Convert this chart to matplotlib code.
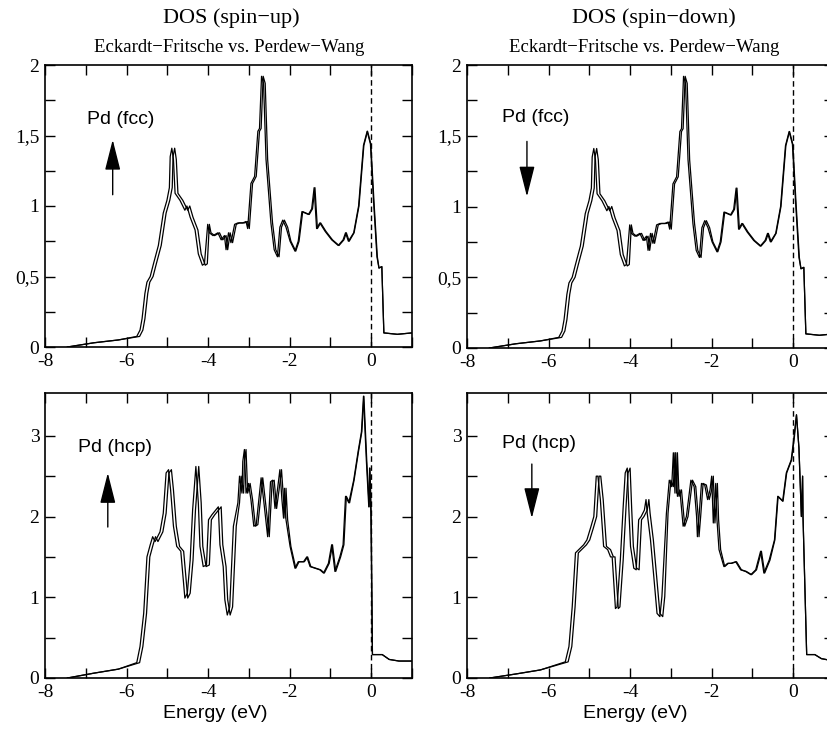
import matplotlib
matplotlib.use("Agg")
import matplotlib.pyplot as plt

# ---------------- data ----------------
# Pd fcc (identical for spin-up and spin-down); *_pw = Perdew-Wang curve energies
fcc_e = [-7.45, -6.8, -6.2, -5.68, -5.6, -5.55, -5.48, -5.43, -5.35, -5.27, -5.15, -5.03, -4.94, -4.88,
         -4.86, -4.82, -4.78, -4.74, -4.62, -4.50, -4.45, -4.37, -4.25, -4.17, -4.07, -4.02, -3.97, -3.93,
         -3.84, -3.72, -3.64, -3.56, -3.52, -3.46, -3.40, -3.31, -3.23, -3.11, -3.03, -2.99, -2.91, -2.82,
         -2.74, -2.70, -2.65, -2.60, -2.54, -2.42, -2.34, -2.26, -2.20, -2.13, -2.05, -1.97, -1.85, -1.77,
         -1.68, -1.60, -1.52, -1.44, -1.38, -1.32, -1.24, -1.11, -0.95, -0.79, -0.67, -0.61, -0.54, -0.42,
         -0.30, -0.18, -0.09, -0.01, 0.07, 0.15, 0.19, 0.26, 0.31, 0.64, 1.0]
fcc_e_pw = [-7.45, -6.8, -6.2, -5.75, -5.67, -5.62, -5.55, -5.50, -5.42, -5.34, -5.22, -5.10, -5.01, -4.95,
            -4.93, -4.89, -4.85, -4.81, -4.69, -4.57, -4.52, -4.44, -4.32, -4.24, -4.14, -4.09, -4.01, -3.97,
            -3.88, -3.76, -3.68, -3.60, -3.56, -3.50, -3.44, -3.35, -3.27, -3.15, -3.07, -3.03, -2.95, -2.86,
            -2.78, -2.74, -2.69, -2.64, -2.58, -2.46, -2.38, -2.30, -2.24, -2.17, -2.09, -1.99, -1.87, -1.79,
            -1.70, -1.62, -1.54, -1.46, -1.40, -1.34, -1.26, -1.13, -0.97, -0.81, -0.69, -0.63, -0.56, -0.43,
            -0.31, -0.19, -0.10, -0.02, 0.06, 0.14, 0.19, 0.26, 0.31, 0.64, 1.0]
fcc_dos = [0.0, 0.03, 0.05, 0.075, 0.12, 0.2, 0.38, 0.46, 0.5, 0.59, 0.72, 0.95, 1.04, 1.13, 1.35, 1.41,
           1.33, 1.09, 1.04, 0.97, 1.0, 0.92, 0.83, 0.66, 0.58, 0.59, 0.87, 0.81, 0.79, 0.81, 0.76, 0.79,
           0.69, 0.81, 0.74, 0.87, 0.88, 0.88, 0.89, 0.84, 1.16, 1.21, 1.53, 1.55, 1.92, 1.87, 1.33, 0.88,
           0.69, 0.64, 0.85, 0.90, 0.85, 0.75, 0.68, 0.75, 0.96, 0.95, 0.94, 0.98, 1.13, 0.84, 0.88, 0.82,
           0.76, 0.72, 0.76, 0.81, 0.75, 0.81, 1.0, 1.43, 1.53, 1.44, 1.02, 0.64, 0.56, 0.57, 0.10, 0.09, 0.10]

# Pd hcp spin-up
hcpu_e = [-7.45, -6.8, -6.2, -5.68, -5.60, -5.51, -5.43, -5.35, -5.29, -5.23, -5.11, -5.03, -4.96, -4.90,
          -4.85, -4.78, -4.70, -4.60, -4.50, -4.44, -4.37, -4.31, -4.23, -4.17, -4.13, -4.05, -3.97, -3.92,
          -3.84, -3.68, -3.64, -3.56, -3.52, -3.46, -3.40, -3.31, -3.23, -3.19, -3.13, -3.11, -3.07, -3.03,
          -2.97, -2.91, -2.84, -2.78, -2.66, -2.58, -2.50, -2.43, -2.38, -2.32, -2.25, -2.20, -2.15, -2.11,
          -2.09, -2.05, -1.97, -1.85, -1.77, -1.64, -1.56, -1.48, -1.36, -1.24, -1.15, -1.03, -0.95, -0.87,
          -0.75, -0.67, -0.61, -0.53, -0.42, -0.31, -0.23, -0.18, -0.11, -0.05, -0.03, 0.0, 0.03, 0.27,
          0.44, 0.68, 1.0]
hcpu_e_pw = [-7.45, -6.8, -6.2, -5.75, -5.67, -5.58, -5.50, -5.42, -5.36, -5.30, -5.18, -5.10, -5.03, -4.97,
             -4.92, -4.85, -4.77, -4.67, -4.57, -4.51, -4.44, -4.38, -4.30, -4.24, -4.20, -4.12, -4.04, -3.99,
             -3.91, -3.75, -3.71, -3.63, -3.59, -3.53, -3.47, -3.38, -3.27, -3.23, -3.17, -3.15, -3.11, -3.07,
             -3.01, -2.95, -2.88, -2.82, -2.70, -2.62, -2.54, -2.47, -2.42, -2.36, -2.29, -2.24, -2.19, -2.15,
             -2.13, -2.09, -1.99, -1.87, -1.79, -1.66, -1.58, -1.50, -1.38, -1.26, -1.17, -1.05, -0.97, -0.89,
             -0.77, -0.69, -0.63, -0.55, -0.43, -0.32, -0.24, -0.19, -0.12, -0.06, -0.04, -0.01, 0.03, 0.27,
             0.44, 0.68, 1.0]
hcpu_dos = [0.0, 0.06, 0.11, 0.19, 0.39, 0.80, 1.50, 1.65, 1.75, 1.69, 1.81, 2.04, 2.54, 2.58, 2.33, 1.88,
            1.63, 1.57, 0.99, 1.05, 1.46, 2.08, 2.62, 2.17, 1.63, 1.38, 1.40, 1.96, 2.02, 2.12, 1.65, 1.38,
            0.97, 0.78, 0.88, 1.88, 2.17, 2.50, 2.29, 2.68, 2.83, 2.29, 2.41, 2.21, 1.88, 1.90, 2.48, 2.12,
            1.75, 2.43, 2.45, 2.10, 2.37, 2.58, 2.21, 1.98, 2.35, 1.96, 1.63, 1.36, 1.44, 1.44, 1.50, 1.38,
            1.36, 1.34, 1.30, 1.42, 1.65, 1.32, 1.50, 1.65, 2.25, 2.17, 2.45, 2.81, 3.05, 3.49, 2.70, 2.12,
            2.60, 2.04, 0.29, 0.29, 0.23, 0.21, 0.21]

# Pd hcp spin-down
hcpd_e = [-7.44, -6.8, -6.2, -5.52, -5.43, -5.35, -5.27, -5.19, -5.07, -4.99, -4.90, -4.82, -4.76, -4.72,
          -4.66, -4.58, -4.48, -4.41, -4.37, -4.29, -4.25, -4.17, -4.10, -4.05, -4.00, -3.96, -3.92, -3.84,
          -3.78, -3.72, -3.66, -3.58, -3.54, -3.51, -3.43, -3.35, -3.27, -3.20, -3.15, -3.07, -3.00, -2.94,
          -2.90, -2.86, -2.84, -2.80, -2.74, -2.66, -2.58, -2.47, -2.39, -2.33, -2.31, -2.27, -2.21, -2.13,
          -2.06, -2.00, -1.96, -1.92, -1.86, -1.83, -1.78, -1.68, -1.59, -1.51, -1.39, -1.27, -1.15, -1.02,
          -0.90, -0.78, -0.70, -0.57, -0.45, -0.37, -0.25, -0.16, -0.04, 0.03, 0.08, 0.14, 0.18, 0.20, 0.23,
          0.24, 0.33, 0.53, 0.69, 1.0]
hcpd_e_pw = [-7.44, -6.8, -6.2, -5.59, -5.50, -5.42, -5.34, -5.26, -5.14, -5.06, -4.97, -4.89, -4.83, -4.79,
             -4.73, -4.65, -4.55, -4.48, -4.44, -4.36, -4.32, -4.24, -4.17, -4.12, -4.07, -4.03, -3.99, -3.91,
             -3.85, -3.79, -3.73, -3.65, -3.61, -3.58, -3.50, -3.42, -3.34, -3.27, -3.22, -3.11, -3.04, -2.98,
             -2.94, -2.90, -2.88, -2.84, -2.78, -2.70, -2.62, -2.51, -2.43, -2.37, -2.35, -2.31, -2.25, -2.17,
             -2.10, -2.04, -2.00, -1.96, -1.90, -1.87, -1.82, -1.70, -1.61, -1.53, -1.41, -1.29, -1.17, -1.04,
             -0.92, -0.80, -0.72, -0.59, -0.46, -0.38, -0.26, -0.17, -0.05, 0.02, 0.08, 0.14, 0.18, 0.20, 0.23,
             0.24, 0.33, 0.53, 0.69, 1.0]
hcpd_dos = [0.0, 0.05, 0.10, 0.20, 0.39, 0.88, 1.55, 1.59, 1.65, 1.71, 1.86, 2.0, 2.50, 2.50, 2.21, 1.63,
            1.59, 1.50, 1.50, 0.86, 0.88, 1.46, 2.12, 2.54, 2.60, 2.08, 1.63, 1.36, 1.34, 1.96, 2.00, 2.08,
            2.21, 2.04, 1.71, 1.26, 0.80, 0.76, 1.01, 2.04, 2.45, 2.37, 2.79, 2.29, 2.79, 2.25, 2.33, 1.88,
            2.0, 2.45, 2.37, 2.0, 1.75, 2.0, 2.41, 2.39, 2.21, 2.33, 2.50, 1.92, 2.41, 1.96, 1.59, 1.38, 1.42,
            1.42, 1.44, 1.34, 1.32, 1.28, 1.34, 1.57, 1.30, 1.46, 1.71, 2.25, 2.19, 2.54, 2.70, 2.99, 3.26,
            2.85, 2.29, 2.0, 2.50, 2.0, 0.29, 0.29, 0.24, 0.21]

x_ticks = [-8, -7, -6, -5, -4, -3, -2, -1, 0, 1]
x_labels = ['-8', '', '-6', '', '-4', '', '-2', '', '0', '']
fcc_yticks = [0, 0.25, 0.5, 0.75, 1.0, 1.25, 1.5, 1.75, 2.0]
fcc_ylabels = ['0', '', '0,5', '', '1', '', '1,5', '', '2']
hcp_yticks = [0, 0.5, 1.0, 1.5, 2.0, 2.5, 3.0]
hcp_ylabels = ['0', '', '1', '', '2', '', '3']

col_titles = ['DOS (spin\u2212up)', 'DOS (spin\u2212down)']
subtitle = 'Eckardt\u2212Fritsche vs. Perdew\u2212Wang'
xlabel = 'Energy (eV)'

# ---------------- figure ----------------
W, H = 827, 735
fig = plt.figure(figsize=(W / 100, H / 100), dpi=100)

def px_axes(x0, x1, ytop, ybot):
    return fig.add_axes([x0 / W, 1 - ybot / H, (x1 - x0) / W, (ybot - ytop) / H])

serif = 'Liberation Serif'
sans = 'Liberation Sans'

panels = [
    (45, 412, 65, 347, fcc_e, fcc_e_pw, fcc_dos, 2.0, fcc_yticks, fcc_ylabels, 'Pd (fcc)', (-6.97, 1.61), (-6.34, 1.08), (-6.34, 1.47)),
    (467, 834, 65, 348, fcc_e, fcc_e_pw, fcc_dos, 2.0, fcc_yticks, fcc_ylabels, 'Pd (fcc)', (-7.14, 1.63), (-6.53, 1.46), (-6.53, 1.07)),
    (45, 412, 393, 678, hcpu_e, hcpu_e_pw, hcpu_dos, 3.53, hcp_yticks, hcp_ylabels, 'Pd (hcp)', (-7.19, 2.86), (-6.46, 1.87), (-6.46, 2.54)),
    (467, 834, 393, 678, hcpd_e, hcpd_e_pw, hcpd_dos, 3.53, hcp_yticks, hcp_ylabels, 'Pd (hcp)', (-7.14, 2.91), (-6.41, 2.65), (-6.41, 1.98)),
]

for (x0, x1, yt, yb, e1, e2, d, ymax, yt_, yl_, lab, tpos, tail, tip) in panels:
    ax = px_axes(x0, x1, yt, yb)
    ax.plot(e1, d, color='black', lw=0.9, solid_joinstyle='round')
    ax.plot(e2, d, color='black', lw=0.9, solid_joinstyle='round')
    ax.axvline(0, color='black', lw=1.0, ls=(0, (4, 2.5)))
    ax.set_xlim(-8, 1)
    ax.set_ylim(0, ymax)
    ax.set_xticks(x_ticks)
    ax.set_xticklabels(x_labels, fontfamily=serif, fontsize=14)
    ax.set_yticks(yt_)
    ax.set_yticklabels(yl_, fontfamily=serif, fontsize=14)
    ax.tick_params(which='both', direction='in', top=True, right=True, length=7, width=1.0)
    ax.tick_params(axis='x', pad=4)
    ax.tick_params(axis='y', pad=4)
    for s in ax.spines.values():
        s.set_linewidth(1.2)
    ax.text(tpos[0], tpos[1], lab, fontfamily=sans, fontsize=14, ha='left', va='center')
    ax.annotate('', xy=tip, xytext=tail,
                arrowprops=dict(arrowstyle='-|>,head_length=0.95,head_width=0.24',
                                color='black', lw=1.0, mutation_scale=20,
                                shrinkA=0, shrinkB=0))

# column titles
for cx, t in zip([231, 654], col_titles):
    fig.text(cx / W, 1 - 18 / H, t, fontfamily=serif, fontsize=16, ha='center', va='center')
for cx in [229, 644]:
    fig.text(cx / W, 1 - 47 / H, subtitle, fontfamily=serif, fontsize=13.5, ha='center', va='center')
for cx in [215, 635]:
    fig.text(cx / W, 1 - 714 / H, xlabel, fontfamily=sans, fontsize=14, ha='center', va='center')

fig.savefig('out.png', dpi=100)
